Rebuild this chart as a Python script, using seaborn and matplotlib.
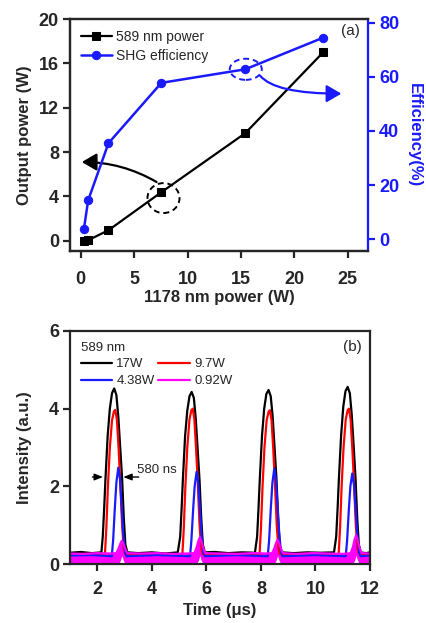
import matplotlib
matplotlib.use("Agg")
import matplotlib.pyplot as plt
from matplotlib.patches import Ellipse, FancyArrowPatch
import seaborn as sns

# ---- panel (a): 589 nm output and SHG efficiency vs 1178 nm pump ----
pump_power = [0.3, 0.7, 2.6, 7.55, 15.4, 22.7]
yellow_power = [0.0, 0.05, 0.95, 4.38, 9.7, 17.0]
shg_efficiency = [3.8, 14.4, 35.5, 57.8, 62.8, 74.5]

# ---- panel (b): pulse traces (time in us, intensity a.u.) ----
black_t = [1.0, 1.4, 1.8, 2.15, 2.2, 2.25, 2.3, 2.38, 2.46, 2.54, 2.62, 2.7, 2.77, 2.84, 2.91, 2.97, 3.03, 3.1,
           3.5, 4.0, 4.5, 4.95, 5.04, 5.09, 5.14, 5.22, 5.3, 5.38, 5.46, 5.54, 5.61, 5.68, 5.75, 5.81, 5.87, 5.94,
           6.3, 6.8, 7.3, 7.78, 7.86, 7.91, 7.96, 8.04, 8.12, 8.2, 8.28, 8.36, 8.43, 8.5, 8.57, 8.63, 8.69, 8.76,
           9.2, 9.7, 10.2, 10.68, 10.76, 10.81, 10.86, 10.94, 11.02, 11.1, 11.18, 11.26, 11.33, 11.4, 11.47, 11.53,
           11.59, 11.66, 11.85, 12.0]
black_i = [0.29, 0.31, 0.28, 0.30, 0.7, 1.4, 2.2, 3.3, 4.0, 4.4, 4.52, 4.35, 3.8, 3.0, 2.2, 1.2, 0.5, 0.3,
           0.28, 0.30, 0.27, 0.30, 0.7, 1.4, 2.2, 3.3, 3.95, 4.32, 4.43, 4.28, 3.75, 2.95, 2.15, 1.2, 0.5, 0.3,
           0.31, 0.28, 0.30, 0.29, 0.7, 1.4, 2.2, 3.3, 4.0, 4.38, 4.48, 4.32, 3.8, 3.0, 2.2, 1.2, 0.5, 0.3,
           0.28, 0.30, 0.29, 0.30, 0.7, 1.4, 2.2, 3.3, 4.05, 4.45, 4.56, 4.4, 3.85, 3.05, 2.2, 1.2,
           0.5, 0.3, 0.28, 0.30]

red_t = [1.0, 1.6, 2.28, 2.33, 2.39, 2.46, 2.54, 2.61, 2.66, 2.72, 2.78, 2.85, 2.91, 2.97, 3.03,
         4.0, 5.12, 5.17, 5.23, 5.3, 5.38, 5.45, 5.5, 5.56, 5.62, 5.69, 5.75, 5.81, 5.87,
         7.0, 7.95, 8.0, 8.06, 8.13, 8.21, 8.28, 8.33, 8.39, 8.45, 8.52, 8.58, 8.64, 8.7,
         9.8, 10.85, 10.9, 10.96, 11.03, 11.11, 11.18, 11.23, 11.29, 11.35, 11.42, 11.48, 11.54, 11.6, 12.0]
red_i = [0.25, 0.26, 0.25, 0.9, 2.0, 3.0, 3.7, 3.93, 3.97, 3.7, 3.0, 2.0, 1.0, 0.4, 0.25,
         0.26, 0.25, 0.9, 2.0, 3.0, 3.72, 3.96, 4.0, 3.72, 3.0, 2.0, 1.0, 0.4, 0.25,
         0.26, 0.25, 0.9, 2.0, 3.0, 3.7, 3.92, 3.96, 3.7, 3.0, 2.0, 1.0, 0.4, 0.25,
         0.26, 0.25, 0.9, 2.0, 3.0, 3.72, 3.96, 4.0, 3.72, 3.0, 2.0, 1.0, 0.4, 0.25, 0.25]

blue_t = [1.0, 1.8, 2.53, 2.58, 2.64, 2.7, 2.77, 2.83, 2.89, 2.95, 3.01, 3.07,
          4.2, 5.4, 5.45, 5.51, 5.57, 5.64, 5.7, 5.76, 5.82, 5.88, 5.94,
          7.1, 8.25, 8.3, 8.36, 8.42, 8.49, 8.55, 8.61, 8.67, 8.73, 8.79,
          10.0, 11.11, 11.16, 11.22, 11.28, 11.35, 11.41, 11.47, 11.53, 11.59, 11.65, 12.0]
blue_i = [0.22, 0.23, 0.2, 0.6, 1.4, 2.1, 2.48, 2.2, 1.5, 0.8, 0.35, 0.2,
          0.23, 0.2, 0.6, 1.35, 2.0, 2.37, 2.1, 1.45, 0.78, 0.35, 0.2,
          0.23, 0.2, 0.6, 1.4, 2.08, 2.46, 2.18, 1.5, 0.8, 0.35, 0.2,
          0.23, 0.2, 0.6, 1.35, 2.0, 2.33, 2.05, 1.45, 0.78, 0.35, 0.2, 0.22]

magenta_t = [1.0, 1.5, 2.0, 2.5, 2.7, 2.78, 2.85, 2.9, 2.95, 3.02, 3.1,
             3.6, 4.2, 4.8, 5.3, 5.56, 5.64, 5.71, 5.76, 5.81, 5.88, 5.96,
             6.5, 7.1, 7.7, 8.2, 8.41, 8.49, 8.56, 8.61, 8.66, 8.73, 8.81,
             9.3, 9.9, 10.5, 11.0, 11.29, 11.37, 11.44, 11.49, 11.54, 11.61, 11.69, 12.0]
magenta_hi = [0.27, 0.26, 0.28, 0.27, 0.28, 0.40, 0.53, 0.60, 0.53, 0.40, 0.28,
              0.27, 0.28, 0.26, 0.27, 0.28, 0.42, 0.60, 0.69, 0.60, 0.42, 0.28,
              0.27, 0.26, 0.28, 0.27, 0.28, 0.40, 0.55, 0.62, 0.55, 0.40, 0.28,
              0.26, 0.28, 0.27, 0.26, 0.28, 0.43, 0.64, 0.74, 0.64, 0.43, 0.28, 0.27]
magenta_lo = [0.0, 0.0, 0.0, 0.0, 0.0, 0.0, 0.10, 0.22, 0.10, 0.0, 0.0,
              0.0, 0.0, 0.0, 0.0, 0.0, 0.0, 0.10, 0.22, 0.10, 0.0, 0.0,
              0.0, 0.0, 0.0, 0.0, 0.0, 0.0, 0.10, 0.22, 0.10, 0.0, 0.0,
              0.0, 0.0, 0.0, 0.0, 0.0, 0.0, 0.10, 0.22, 0.10, 0.0, 0.0, 0.0]

BLUE = "#1a1aff"
MAGENTA = "#ff00ff"

sns.set_style("ticks")
plt.rcParams["font.family"] = ["Liberation Sans", "DejaVu Sans"]
plt.rcParams["axes.linewidth"] = 1.6

fig = plt.figure(figsize=(4.27, 6.23), dpi=100)
ax = fig.add_axes([0.164, 0.597, 0.698, 0.3725])
ax2 = ax.twinx()

sns.lineplot(x=pump_power, y=yellow_power, ax=ax, color="black", marker="s", markersize=5.5,
             markeredgecolor="black", lw=1.6, label="589 nm power", legend=False)
sns.lineplot(x=pump_power, y=shg_efficiency, ax=ax2, color=BLUE, marker="o", markersize=6,
             markeredgecolor=BLUE, lw=1.8, label="SHG efficiency", legend=False)

ax.set_xlim(-1.0, 26.9)
ax.set_ylim(-0.93, 20)
ax2.set_ylim(-4.4, 81.4)
ax.set_xticks([0, 5, 10, 15, 20, 25])
ax.set_yticks([0, 4, 8, 12, 16, 20])
ax2.set_yticks([0, 20, 40, 60, 80])

for a in (ax, ax2):
    a.tick_params(width=1.6, length=5, direction="out", labelsize=13, pad=3)
    for lab in a.get_xticklabels() + a.get_yticklabels():
        lab.set_fontweight("bold")
ax.tick_params(axis="x", pad=9)
ax2.tick_params(axis="y", colors=BLUE)
ax2.spines["right"].set_color(BLUE)
ax.spines["right"].set_visible(False)

ax.set_xlabel("1178 nm power (W)", fontsize=12, fontweight="bold", labelpad=2)
ax.set_ylabel("Output power (W)", fontsize=12, fontweight="bold", labelpad=5)
ax2.set_ylabel("Efficiency(%)", fontsize=12, fontweight="bold", color=BLUE, rotation=270, labelpad=16)

h1, l1 = ax.get_legend_handles_labels()
h2, l2 = ax2.get_legend_handles_labels()
ax2.legend(h1 + h2, l1 + l2, loc="upper left", frameon=False, fontsize=10, handlelength=2.2,
           handletextpad=0.3, labelspacing=0.35, borderaxespad=0.4, bbox_to_anchor=(0.0, 1.0))
ax2.text(0.94, 0.95, "(a)", transform=ax.transAxes, ha="center", va="center", fontsize=11)

ax.add_patch(Ellipse((7.75, 3.85), 3.0, 2.7, fill=False, ls=(0, (3, 2)), lw=1.4, ec="black"))
ax2.add_patch(Ellipse((15.45, 62.8), 3.0, 7.8, fill=False, ls=(0, (3, 2)), lw=1.4, ec=BLUE))
ax.add_patch(FancyArrowPatch((7.1, 5.3), (0.1, 7.1), connectionstyle="angle3,angleA=150,angleB=0",
                             arrowstyle="-|>,head_length=0.6,head_width=0.35", mutation_scale=15,
                             color="black", lw=1.6, shrinkA=0, shrinkB=0))
ax2.add_patch(FancyArrowPatch((16.8, 60.4), (24.4, 53.8), connectionstyle="angle3,angleA=-50,angleB=0",
                              arrowstyle="-|>,head_length=0.6,head_width=0.35", mutation_scale=15,
                              color=BLUE, lw=1.6, shrinkA=0, shrinkB=0))

# ---- panel (b) ----
bx = fig.add_axes([0.164, 0.0947, 0.7025, 0.374])
sns.lineplot(x=black_t, y=black_i, ax=bx, color="black", lw=1.6, label="17W", legend=False)
sns.lineplot(x=red_t, y=red_i, ax=bx, color="red", lw=1.6, label="9.7W", legend=False)
sns.lineplot(x=blue_t, y=blue_i, ax=bx, color=BLUE, lw=1.6, label="4.38W", legend=False)
sns.lineplot(x=magenta_t, y=magenta_hi, ax=bx, color=MAGENTA, lw=1.2, label="0.92W", legend=False)
bx.fill_between(magenta_t, magenta_lo, magenta_hi, color=MAGENTA, lw=0)

bx.set_xlim(1.0, 12.0)
bx.set_ylim(0, 6)
bx.set_xticks([2, 4, 6, 8, 10, 12])
bx.set_yticks([0, 2, 4, 6])
bx.tick_params(width=1.6, length=5, direction="out", labelsize=13, pad=3)
bx.tick_params(axis="x", pad=7)
for lab in bx.get_xticklabels() + bx.get_yticklabels():
    lab.set_fontweight("bold")
bx.set_xlabel("Time (\u03bcs)", fontsize=12, fontweight="bold", labelpad=4)
bx.set_ylabel("Intensity (a.u.)", fontsize=12, fontweight="bold", labelpad=12)

hb, lb = bx.get_legend_handles_labels()
order = [0, 2, 1, 3]
for h in hb:
    h.set_linewidth(1.6)
bx.legend([hb[i] for i in order], [lb[i] for i in order], ncol=2, loc="upper left", frameon=False,
          title="589 nm", title_fontsize=9.5, alignment="left", fontsize=9.5, handlelength=2.4,
          handletextpad=0.3, columnspacing=0.3, labelspacing=0.35, borderaxespad=0.4)
bx.text(0.94, 0.93, "(b)", transform=bx.transAxes, ha="center", va="center", fontsize=11)

bx.annotate("", xy=(2.31, 2.24), xytext=(1.72, 2.24),
            arrowprops=dict(arrowstyle="-|>,head_length=0.5,head_width=0.2", color="black", lw=1.0))
bx.annotate("", xy=(2.85, 2.24), xytext=(3.62, 2.24),
            arrowprops=dict(arrowstyle="-|>,head_length=0.5,head_width=0.2", color="black", lw=1.0))
bx.text(3.45, 2.42, "580 ns", fontsize=9.5, ha="left", va="center")

fig.savefig("out.png", dpi=100)
plt.close(fig)
